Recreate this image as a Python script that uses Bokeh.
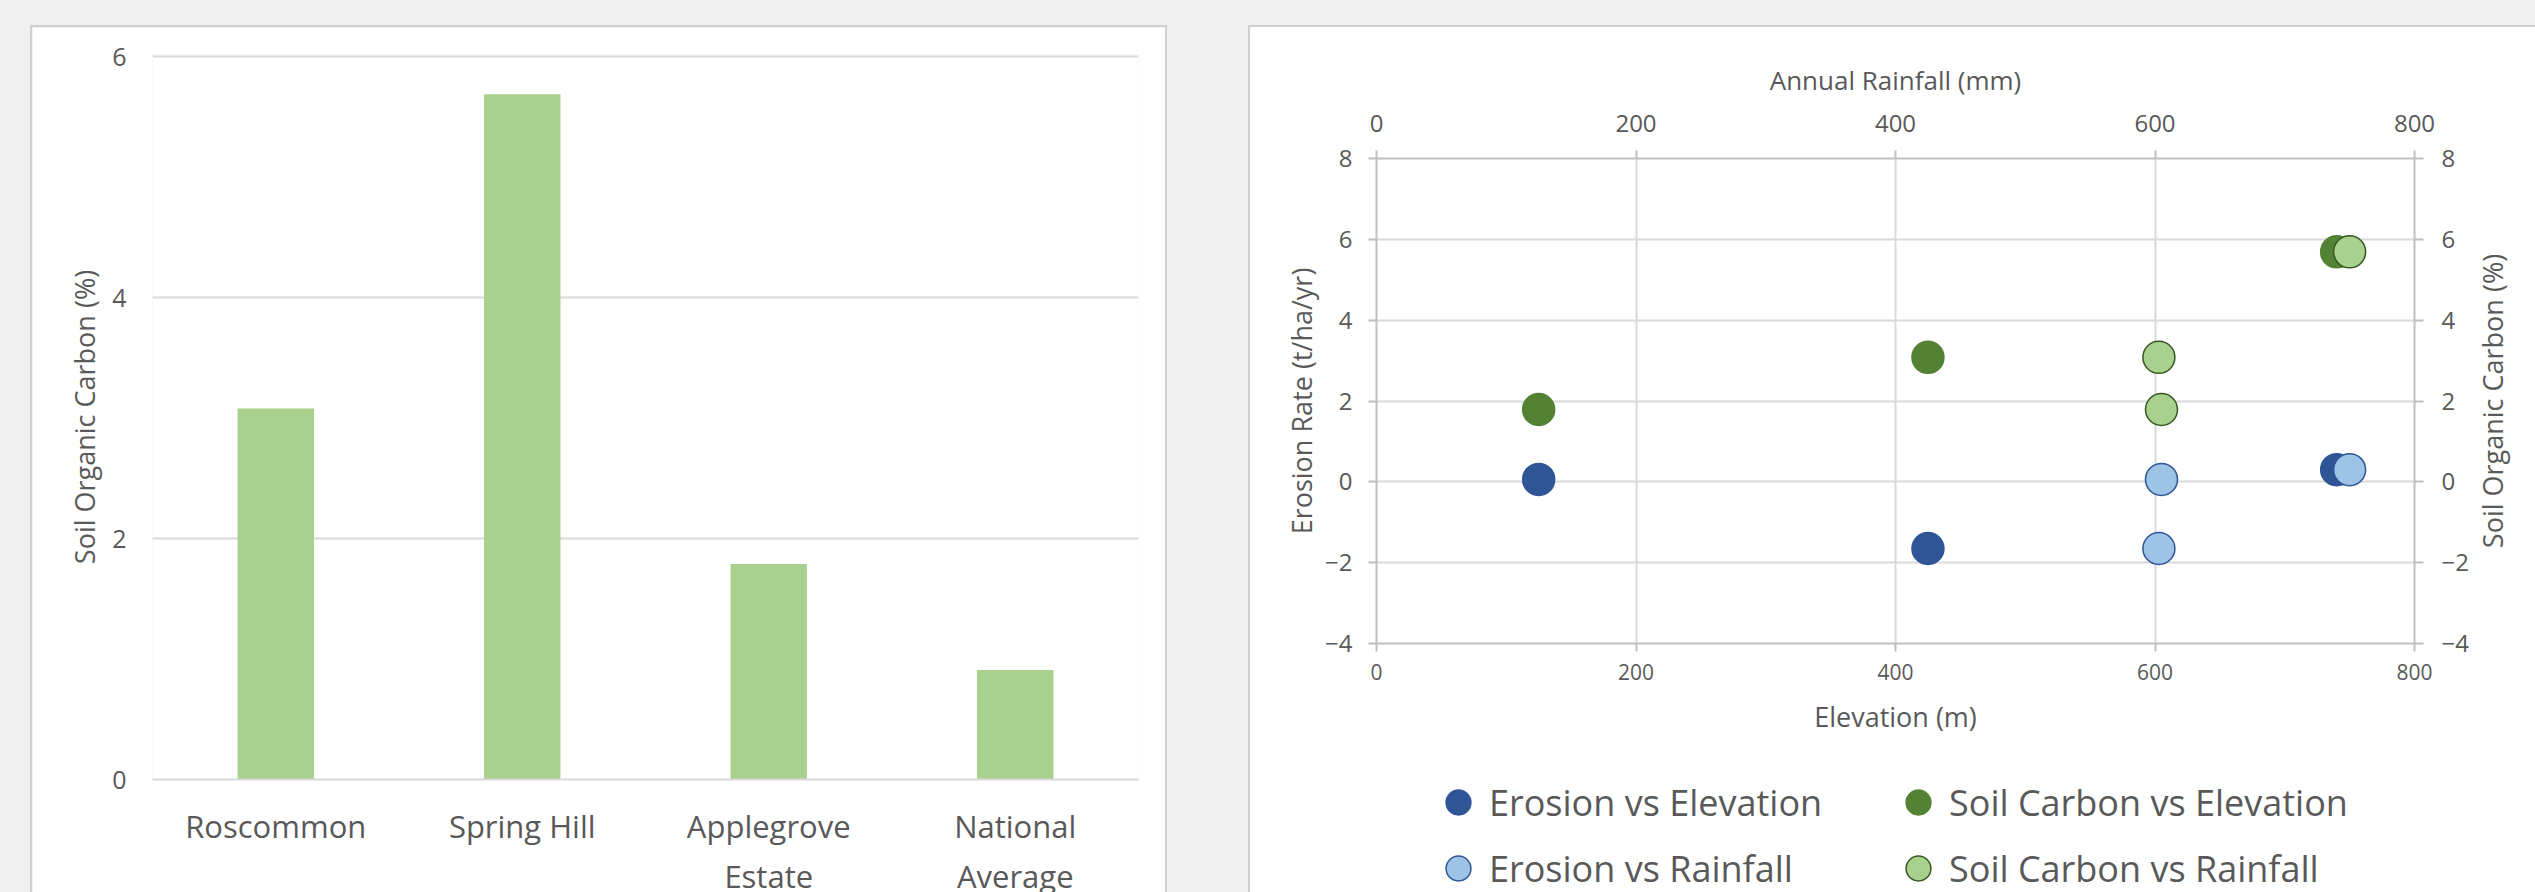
from bokeh.plotting import figure
from bokeh.models import (FactorRange, Range1d, LinearAxis, Legend, LegendItem,
                          FixedTicker, Title)
from bokeh.layouts import row, column
from bokeh.embed import file_html
from bokeh.resources import INLINE

FONT = "Open Sans"
TEXT = "#595959"
GRID = "#d9d9d9"
AXIS = "#bfbfbf"
PAGE_BG = "#efefef"
PANEL_EDGE = "#d0d0d0"

DARK_BLUE = "#2f5597"
DARK_GREEN = "#548235"
LIGHT_BLUE = "#9dc3e6"
LIGHT_GREEN = "#a9d18e"
GREEN_EDGE = "#385723"

# Soil organic carbon by site
sites = ["Roscommon", "Spring Hill", "Applegrove Estate", "National Average"]
site_labels = ["Roscommon", "Spring Hill", "Applegrove\nEstate", "National\nAverage"]
soil_carbon = [3.08, 5.69, 1.79, 0.91]
bar_ticks = [0, 2, 4, 6]

# Field sites: elevation, rainfall, erosion and soil carbon
field_sites = ["Roscommon", "Spring Hill", "Applegrove Estate"]
elevation = [425, 740, 125]
rainfall = [603, 750, 605]
erosion = [-1.65, 0.30, 0.06]
field_carbon = [3.08, 5.69, 1.79]
x_ticks = [0, 200, 400, 600, 800]
y_ticks = [-4, -2, 0, 2, 4, 6, 8]

series_names = ["Erosion vs Elevation", "Soil Carbon vs Elevation",
                "Erosion vs Rainfall", "Soil Carbon vs Rainfall"]
series_x = [elevation, elevation, rainfall, rainfall]
series_y = [erosion, field_carbon, erosion, field_carbon]
series_fill = [DARK_BLUE, DARK_GREEN, LIGHT_BLUE, LIGHT_GREEN]
series_edge = [DARK_BLUE, DARK_GREEN, DARK_BLUE, GREEN_EDGE]
series_xr = ["default", "default", "rain", "rain"]
series_yr = ["default", "carbon", "default", "carbon"]


def style_axis(ax, label_size, title_size, standoff, title_standoff, tick_out=0):
    ax.major_label_text_font = FONT
    ax.major_label_text_font_size = label_size
    ax.major_label_text_color = TEXT
    ax.major_label_standoff = standoff
    ax.axis_label_text_font = FONT
    ax.axis_label_text_font_size = title_size
    ax.axis_label_text_font_style = "normal"
    ax.axis_label_text_color = TEXT
    ax.axis_label_standoff = title_standoff
    ax.minor_tick_line_color = None
    if tick_out:
        ax.major_tick_out = tick_out
        ax.major_tick_in = 0
        ax.major_tick_line_color = AXIS
        ax.major_tick_line_width = 2
    else:
        ax.major_tick_line_color = None


def blank_figure(**kw):
    return figure(output_backend="svg", toolbar_location=None,
                  background_fill_color="white", border_fill_color="white",
                  outline_line_color=None, **kw)


# ---- Bar chart: soil organic carbon ----
p1 = blank_figure(x_range=FactorRange(*site_labels), y_range=Range1d(0, 6.02),
                  frame_width=986, frame_height=725,
                  min_border_left=120, min_border_right=27,
                  min_border_top=27, min_border_bottom=113)
p1.vbar(x=site_labels, top=soil_carbon, width=0.31, fill_color=LIGHT_GREEN,
        line_color=None)

bar_x = p1.below[0]
bar_y = p1.left[0]
style_axis(bar_x, "31px", "27px", 19, 8)
bar_x.axis_line_color = GRID
bar_x.axis_line_width = 2

style_axis(bar_y, "25px", "27px", 20, 6)
bar_y.ticker = FixedTicker(ticks=bar_ticks)
bar_y.axis_line_color = None
bar_y.axis_label = "Soil Organic Carbon (%)"

p1.xgrid.visible = False
p1.ygrid.ticker = FixedTicker(ticks=bar_ticks)
p1.ygrid.grid_line_color = GRID
p1.ygrid.grid_line_width = 2

p1.margin = (27, 0, 0, 32)
p1.styles = {"outline": f"2px solid {PANEL_EDGE}"}

# ---- Scatter chart: erosion and soil carbon vs elevation / rainfall ----
p2 = blank_figure(x_range=Range1d(0, 800), y_range=Range1d(-4, 8),
                  frame_width=1038, frame_height=485,
                  min_border_left=126, min_border_right=57,
                  min_border_top=131, min_border_bottom=102)
p2.extra_x_ranges = {"rain": Range1d(0, 800)}
p2.extra_y_ranges = {"carbon": Range1d(-4, 8)}
p2.add_layout(LinearAxis(x_range_name="rain"), "above")
p2.add_layout(LinearAxis(y_range_name="carbon"), "right")

bottom_ax = p2.below[0]
left_ax = p2.left[0]
top_ax = p2.above[0]
right_ax = p2.right[0]

bottom_ax.axis_label = "Elevation (m)"
top_ax.axis_label = "Annual Rainfall (mm)"
left_ax.axis_label = "Erosion Rate (t/ha/yr)"

style_axis(bottom_ax, "21px", "27px", 12, 15, tick_out=8)
style_axis(top_ax, "24px", "26px", 19, 14, tick_out=8)
style_axis(left_ax, "24px", "27px", 16, 2, tick_out=8)
style_axis(right_ax, "24px", "27px", 18, 8, tick_out=9)
for ax in (bottom_ax, top_ax):
    ax.ticker = FixedTicker(ticks=x_ticks)
for ax in (left_ax, right_ax):
    ax.ticker = FixedTicker(ticks=y_ticks)
for ax in (bottom_ax, top_ax, left_ax, right_ax):
    ax.axis_line_color = AXIS
    ax.axis_line_width = 2

p2.xgrid.ticker = FixedTicker(ticks=x_ticks)
p2.ygrid.ticker = FixedTicker(ticks=y_ticks)
for g in (p2.xgrid[0], p2.ygrid[0]):
    g.grid_line_color = GRID
    g.grid_line_width = 2

MS = 32
for xs, ys, f, e, xr, yr in zip(series_x, series_y, series_fill, series_edge,
                                series_xr, series_yr):
    p2.scatter(xs, ys, size=MS, fill_color=f, line_color=e, line_width=1.5,
               x_range_name=xr, y_range_name=yr)

# ---- Title strip for the secondary (soil carbon) axis, read bottom-to-top ----
tf = blank_figure(x_range=Range1d(0, 1), y_range=Range1d(0, 1),
                  frame_width=45, frame_height=485,
                  min_border_left=0, min_border_right=0,
                  min_border_top=131, min_border_bottom=249,
                  x_axis_location=None, y_axis_location=None)
tf.grid.visible = False
tf.add_layout(Title(text="Soil Organic Carbon (%)", align="center",
                    text_font=FONT, text_font_size="27px",
                    text_font_style="normal", text_color=TEXT,
                    standoff=0), "left")

# ---- Legend strip under the scatter chart ----
lf = blank_figure(x_range=Range1d(0, 1), y_range=Range1d(0, 1),
                  frame_width=1038, frame_height=160,
                  min_border_left=126, min_border_right=57,
                  min_border_top=0, min_border_bottom=0,
                  x_axis_location=None, y_axis_location=None)
lf.grid.visible = False

# legend keys share the scatter styling; their points fall outside this strip's ranges
keys = [lf.scatter(xs, ys, size=MS, fill_color=f, line_color=e, line_width=1.5)
        for xs, ys, f, e in zip(series_x, series_y, series_fill, series_edge)]


def legend_column(idx, loc):
    return Legend(items=[LegendItem(label=series_names[i], renderers=[keys[i]]) for i in idx],
                  location=loc, orientation="vertical",
                  glyph_width=62, glyph_height=62, label_standoff=0,
                  spacing=4, padding=0, margin=0,
                  border_line_color=None, background_fill_alpha=0,
                  label_text_font=FONT, label_text_font_size="36px",
                  label_text_color=TEXT)


lf.add_layout(legend_column([0, 2], (51, 6)), "center")
lf.add_layout(legend_column([1, 3], (511, 6)), "center")

right_panel = row(column(p2, lf, styles={"background-color": "white"}), tf,
                  margin=(27, 0, 0, 85),
                  styles={"outline": f"2px solid {PANEL_EDGE}",
                          "background-color": "white"})

layout = row(column(p1), right_panel, styles={"background-color": PAGE_BG})

open("out.html", "w").write(file_html(layout, INLINE))
